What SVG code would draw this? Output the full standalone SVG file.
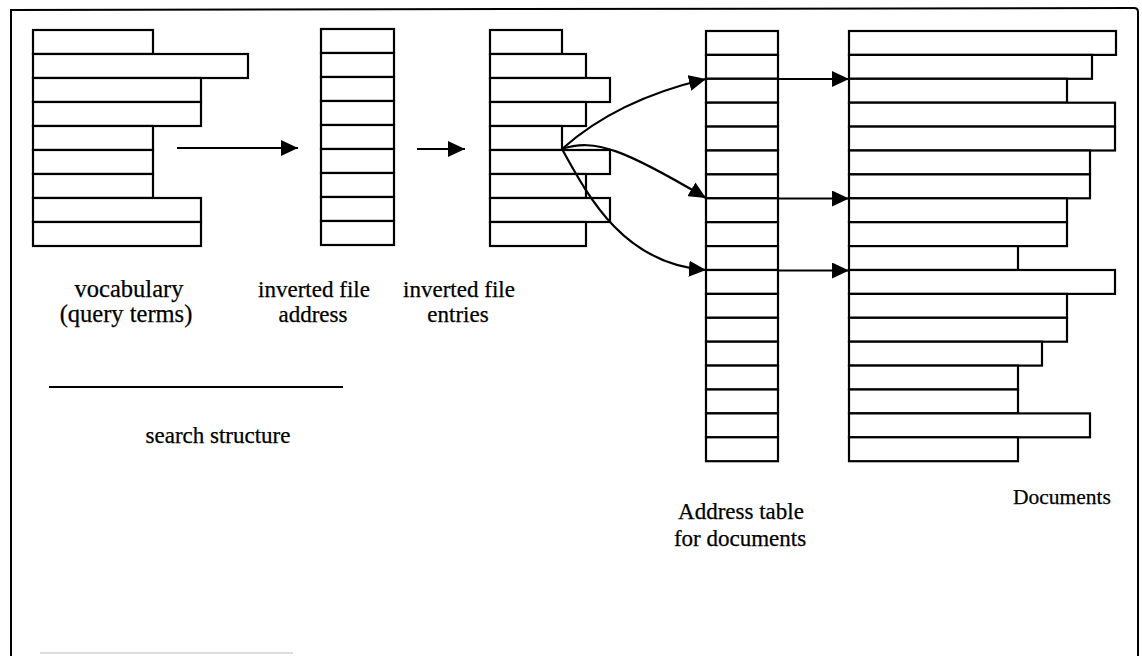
<svg xmlns="http://www.w3.org/2000/svg" width="1142" height="656" viewBox="0 0 1142 656">
  <style>
    .cell { fill: #ffffff; stroke: #000000; stroke-width: 2.2; }
    .frame { fill: none; stroke: #000000; stroke-width: 2; }
    .link { fill: none; stroke: #000000; stroke-width: 2.2; }
    .label { font-family: "Liberation Serif", "Times New Roman", serif; font-size: 23px; fill: #000000; stroke: #000000; stroke-width: 0.25; text-anchor: middle; }
    .big { font-size: 24.5px; }
    .small { font-size: 21.5px; }
  </style>
  <defs>
    <marker id="arrow" markerUnits="userSpaceOnUse" markerWidth="18" markerHeight="16" refX="17" refY="8" orient="auto">
      <path d="M0,0 L17,8 L0,16 Z" fill="#000000"/>
    </marker>
  </defs>

  <rect x="0" y="0" width="1142" height="656" fill="#ffffff"/>

  <!-- page frame -->
  <g id="frame">
    <path class="frame" d="M11,656 L11,10 L1134,8 Q1138,8 1138,12 L1138,656"/>
    <line x1="40" y1="653" x2="293" y2="653" stroke="#d0d0d0" stroke-width="1.5"/>
  </g>

  <!-- vocabulary of query terms -->
  <g id="vocabulary">
    <rect class="cell" x="33" y="30" width="120" height="24"/>
    <rect class="cell" x="33" y="54" width="215" height="24"/>
    <rect class="cell" x="33" y="78" width="168" height="24"/>
    <rect class="cell" x="33" y="102" width="168" height="24"/>
    <rect class="cell" x="33" y="126" width="120" height="24"/>
    <rect class="cell" x="33" y="150" width="120" height="24"/>
    <rect class="cell" x="33" y="174" width="120" height="24"/>
    <rect class="cell" x="33" y="198" width="168" height="24"/>
    <rect class="cell" x="33" y="222" width="168" height="24"/>
    <text class="label big" x="129" y="297">vocabulary</text>
    <text class="label big" x="126" y="322">(query terms)</text>
  </g>

  <!-- inverted file address -->
  <g id="inverted-file-address">
    <rect class="cell" x="321" y="29" width="73" height="24"/>
    <rect class="cell" x="321" y="53" width="73" height="24"/>
    <rect class="cell" x="321" y="77" width="73" height="24"/>
    <rect class="cell" x="321" y="101" width="73" height="24"/>
    <rect class="cell" x="321" y="125" width="73" height="24"/>
    <rect class="cell" x="321" y="149" width="73" height="24"/>
    <rect class="cell" x="321" y="173" width="73" height="24"/>
    <rect class="cell" x="321" y="197" width="73" height="24"/>
    <rect class="cell" x="321" y="221" width="73" height="24"/>
    <text class="label" x="314" y="297">inverted file</text>
    <text class="label" x="313" y="322">address</text>
  </g>

  <!-- inverted file entries -->
  <g id="inverted-file-entries">
    <rect class="cell" x="490" y="30" width="72" height="24"/>
    <rect class="cell" x="490" y="54" width="96" height="24"/>
    <rect class="cell" x="490" y="78" width="120" height="24"/>
    <rect class="cell" x="490" y="102" width="96" height="24"/>
    <rect class="cell" x="490" y="126" width="72" height="24"/>
    <rect class="cell" x="490" y="150" width="120" height="24"/>
    <rect class="cell" x="490" y="174" width="96" height="24"/>
    <rect class="cell" x="490" y="198" width="120" height="24"/>
    <rect class="cell" x="490" y="222" width="96" height="24"/>
    <text class="label" x="459" y="297">inverted file</text>
    <text class="label" x="458" y="322">entries</text>
  </g>

  <!-- search structure bracket -->
  <g id="search-structure">
    <line x1="49" y1="387" x2="343" y2="387" stroke="#000000" stroke-width="2.2"/>
    <text class="label" x="218" y="443">search structure</text>
  </g>

  <!-- address table for documents -->
  <g id="address-table">
    <rect class="cell" x="706" y="31" width="72" height="23.9"/>
    <rect class="cell" x="706" y="54.9" width="72" height="23.9"/>
    <rect class="cell" x="706" y="78.8" width="72" height="23.9"/>
    <rect class="cell" x="706" y="102.7" width="72" height="23.9"/>
    <rect class="cell" x="706" y="126.6" width="72" height="23.9"/>
    <rect class="cell" x="706" y="150.5" width="72" height="23.9"/>
    <rect class="cell" x="706" y="174.4" width="72" height="23.9"/>
    <rect class="cell" x="706" y="198.3" width="72" height="23.9"/>
    <rect class="cell" x="706" y="222.2" width="72" height="23.9"/>
    <rect class="cell" x="706" y="246.1" width="72" height="23.9"/>
    <rect class="cell" x="706" y="270" width="72" height="23.9"/>
    <rect class="cell" x="706" y="293.9" width="72" height="23.9"/>
    <rect class="cell" x="706" y="317.8" width="72" height="23.9"/>
    <rect class="cell" x="706" y="341.7" width="72" height="23.9"/>
    <rect class="cell" x="706" y="365.6" width="72" height="23.9"/>
    <rect class="cell" x="706" y="389.5" width="72" height="23.9"/>
    <rect class="cell" x="706" y="413.4" width="72" height="23.9"/>
    <rect class="cell" x="706" y="437.3" width="72" height="23.9"/>
    <text class="label" x="741" y="519">Address table</text>
    <text class="label" x="740" y="546">for documents</text>
  </g>

  <!-- documents -->
  <g id="documents">
    <rect class="cell" x="849" y="31" width="267" height="23.9"/>
    <rect class="cell" x="849" y="54.9" width="243" height="23.9"/>
    <rect class="cell" x="849" y="78.8" width="218" height="23.9"/>
    <rect class="cell" x="849" y="102.7" width="266" height="23.9"/>
    <rect class="cell" x="849" y="126.6" width="266" height="23.9"/>
    <rect class="cell" x="849" y="150.5" width="241" height="23.9"/>
    <rect class="cell" x="849" y="174.4" width="241" height="23.9"/>
    <rect class="cell" x="849" y="198.3" width="218" height="23.9"/>
    <rect class="cell" x="849" y="222.2" width="218" height="23.9"/>
    <rect class="cell" x="849" y="246.1" width="169" height="23.9"/>
    <rect class="cell" x="849" y="270" width="266" height="23.9"/>
    <rect class="cell" x="849" y="293.9" width="218" height="23.9"/>
    <rect class="cell" x="849" y="317.8" width="218" height="23.9"/>
    <rect class="cell" x="849" y="341.7" width="193" height="23.9"/>
    <rect class="cell" x="849" y="365.6" width="169" height="23.9"/>
    <rect class="cell" x="849" y="389.5" width="169" height="23.9"/>
    <rect class="cell" x="849" y="413.4" width="241" height="23.9"/>
    <rect class="cell" x="849" y="437.3" width="169" height="23.9"/>
    <text class="label small" x="1062" y="504">Documents</text>
  </g>

  <!-- pointers between the structures -->
  <g id="connectors">
    <line class="link" x1="177" y1="148" x2="298" y2="148" marker-end="url(#arrow)"/>
    <line class="link" x1="417" y1="149" x2="465" y2="149" marker-end="url(#arrow)"/>
    <path class="link" d="M562,149 C600,115 650,92 706,79" marker-end="url(#arrow)"/>
    <path class="link" d="M562,149 C595,138 625,150 706,198" marker-end="url(#arrow)"/>
    <path class="link" d="M562,149 C590,200 625,264 706,270" marker-end="url(#arrow)"/>
    <line class="link" x1="778" y1="79" x2="849" y2="79" marker-end="url(#arrow)"/>
    <line class="link" x1="778" y1="198.5" x2="849" y2="198.5" marker-end="url(#arrow)"/>
    <line class="link" x1="778" y1="270.5" x2="849" y2="270.5" marker-end="url(#arrow)"/>
  </g>
</svg>
